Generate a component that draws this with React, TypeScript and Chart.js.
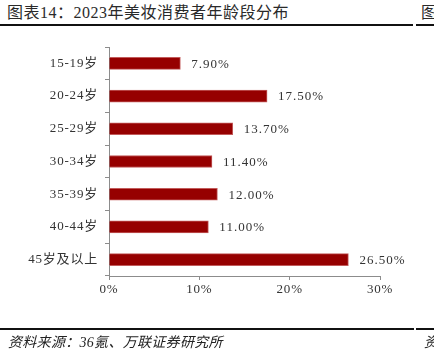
import React, { useEffect, useRef } from "react";
import { Chart, registerables } from "chart.js";

Chart.register(...registerables);

const categories = ["15-19岁", "20-24岁", "25-29岁", "30-34岁", "35-39岁", "40-44岁", "45岁及以上"];
const values = [7.9, 17.5, 13.7, 11.4, 12.0, 11.0, 26.5];
const xTicks = [0, 10, 20, 30];

const titleText = "图表14：2023年美妆消费者年龄段分布";
const sourceText = "资料来源：36氪、万联证券研究所";

const SERIF = "'Liberation Serif', 'Noto Sans CJK SC', serif";
const AXIS = "#8c8c8c";

const spacing = {
  id: "spacing",
  beforeDraw(chart: any) {
    try { (chart.ctx as any).letterSpacing = "0.8px"; } catch (e) {}
  },
};

const valueLabels = {
  id: "valueLabels",
  afterDatasetsDraw(chart: any) {
    const ctx = chart.ctx;
    const meta = chart.getDatasetMeta(0);
    ctx.save();
    ctx.font = "13px " + SERIF;
    ctx.fillStyle = "#333";
    ctx.textAlign = "left";
    ctx.textBaseline = "middle";
    try { (ctx as any).letterSpacing = "1px"; } catch (e) {}
    meta.data.forEach((bar: any, i: number) => {
      ctx.fillText(values[i].toFixed(2) + "%", bar.x + 11, bar.y + 1);
    });
    ctx.restore();
  },
};

export default function App() {
  const ref = useRef<HTMLCanvasElement>(null);
  useEffect(() => {
    if (!ref.current) return;
    const chart = new Chart(ref.current, {
      type: "bar",
      data: {
        labels: categories,
        datasets: [
          {
            data: values,
            backgroundColor: "#960000",
            borderColor: "#c25a5a",
            borderWidth: 1,
            barThickness: 12,
          },
        ],
      },
      options: {
        indexAxis: "y",
        animation: false,
        responsive: false,
        devicePixelRatio: 1,
        layout: { padding: { left: 0, right: 54, top: 47, bottom: 54 } },
        plugins: { legend: { display: false }, tooltip: { enabled: false } },
        scales: {
          x: {
            min: 0,
            max: 30,
            afterBuildTicks: (s: any) => { s.ticks = xTicks.map((v) => ({ value: v })); },
            afterFit: (s: any) => { s.height = 25; },
            border: { display: true, color: AXIS, width: 1 },
            grid: { display: true, drawOnChartArea: false, drawTicks: true, tickLength: 4, color: AXIS },
            ticks: {
              padding: 2,
              color: "#333",
              font: { family: SERIF, size: 13 },
              callback: (v: any) => v + "%",
            },
          },
          y: {
            afterFit: (s: any) => { s.width = 109; },
            border: { display: true, color: AXIS, width: 1 },
            grid: { display: true, drawOnChartArea: false, drawTicks: true, tickLength: 4, color: AXIS, offset: true },
            ticks: { padding: 7, color: "#333", font: { family: SERIF, size: 13 } },
          },
        },
      },
      plugins: [spacing, valueLabels],
    });
    return () => chart.destroy();
  }, []);

  return (
    <div style={{ position: "fixed", left: 0, top: 0, width: 434, height: 355, background: "#fff", overflow: "hidden" }}>
      <div style={{ position: "absolute", left: 7, top: 3, fontFamily: SERIF, fontSize: 16, lineHeight: "20px", color: "#2a2a2a", letterSpacing: "0.5px", whiteSpace: "nowrap" }}>
        {titleText}
      </div>
      <div style={{ position: "absolute", left: 421, top: 3, fontFamily: SERIF, fontSize: 16, lineHeight: "20px", color: "#2a2a2a" }}>图</div>
      <div style={{ position: "absolute", left: 0, top: 24, width: 413, height: 2, background: "#111" }} />
      <div style={{ position: "absolute", left: 416, top: 24, width: 18, height: 2, background: "#111" }} />
      <canvas ref={ref} width={434} height={355} style={{ position: "absolute", left: 0, top: 0, width: 434, height: 355 }} />
      <div style={{ position: "absolute", left: 0, top: 328, width: 414, height: 2, background: "#111" }} />
      <div style={{ position: "absolute", left: 416, top: 328, width: 18, height: 2, background: "#111" }} />
      <div style={{ position: "absolute", left: 8, top: 334, fontFamily: SERIF, fontSize: 14, lineHeight: "18px", color: "#222", fontStyle: "italic", letterSpacing: "0.3px", whiteSpace: "nowrap" }}>
        {sourceText}
      </div>
      <div style={{ position: "absolute", left: 424, top: 334, fontFamily: SERIF, fontSize: 14, lineHeight: "18px", color: "#222", fontStyle: "italic" }}>资</div>
    </div>
  );
}
